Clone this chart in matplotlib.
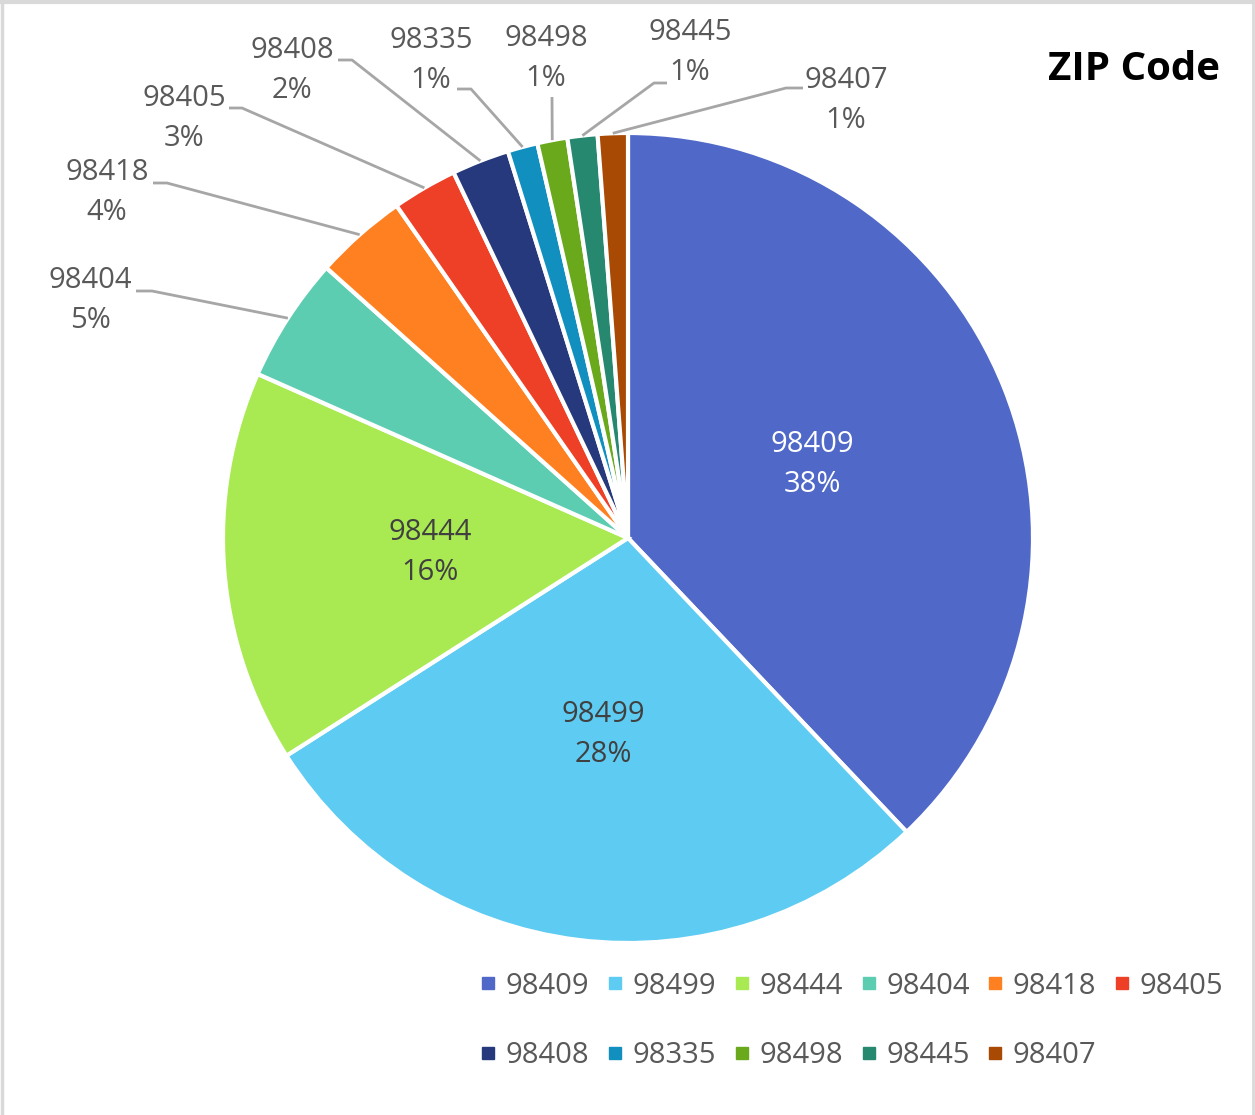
import matplotlib
matplotlib.use('Agg')
import matplotlib.pyplot as plt
from matplotlib.lines import Line2D
import numpy as np

plt.rcParams['font.family'] = ['Open Sans', 'DejaVu Sans']

# ---- data ----
zip_codes = ['98409', '98499', '98444', '98404', '98418', '98405',
             '98408', '98335', '98498', '98445', '98407']
shares = [38.0, 28.1, 15.7, 5.0, 3.7, 2.6, 2.3, 1.2, 1.2, 1.2, 1.2]
colors = ['#5068C8', '#5ECBF2', '#A9E952', '#5CCDB1', '#FF8021', '#EE4026',
          '#26397C', '#1190BF', '#69A91B', '#278870', '#A84A04']
title = 'ZIP Code'

# ---- layout (pixels) ----
W, H = 1255, 1115
CX, CY, R = 628, 538, 405
inner_text_colors = ['white', '#404040', '#404040']
# outer label block centres and leader geometry: (text x, text y, line start x, elbow x, line y)
outer_layout = {
    '98404': (90, 300, 136, 152, 291),
    '98418': (107, 192, 153, 167, 183),
    '98405': (184, 118, 229, 242, 108),
    '98408': (292, 70, 338, 352, 60),
    '98335': (431, 61, 457, 471, 89),
    '98498': (546, 59, 552, 552, 97),
    '98445': (690, 53, 667, 654, 83),
    '98407': (846, 100, 803, 786, 88),
}

fig = plt.figure(figsize=(W / 100, H / 100), dpi=100)
ax = fig.add_axes([0, 0, 1, 1])

total = sum(shares)
wedges, _ = ax.pie(shares, colors=colors, center=(CX, CY), radius=R,
                   startangle=-90, counterclock=True,
                   wedgeprops=dict(edgecolor='white', linewidth=3))
ax.set_xlim(0, W)
ax.set_ylim(H, 0)
ax.set_aspect('equal')
ax.axis('off')

fs = 21
ls = 1.5
for i, (w, z, v) in enumerate(zip(wedges, zip_codes, shares)):
    pct = f'{round(100 * v / total)}%'
    mid = np.deg2rad((w.theta1 + w.theta2) / 2)
    if z in outer_layout:
        tx, ty, lx0, lx1, ly = outer_layout[z]
        axp = CX + R * np.cos(mid)
        ayp = CY + R * np.sin(mid)
        ax.plot([lx0, lx1, axp], [ly, ly, ayp], color='#A6A6A6', lw=2,
                solid_capstyle='butt', zorder=1)
        ax.text(tx, ty, f'{z}\n{pct}', ha='center', va='center', fontsize=fs,
                color='#595959', linespacing=ls)
    else:
        rr = 0.49 * R
        ax.text(CX + rr * np.cos(mid), CY + rr * np.sin(mid), f'{z}\n{pct}',
                ha='center', va='center', fontsize=fs,
                color=inner_text_colors[i], linespacing=ls)

ax.text(1220, 70, title, ha='right', va='center', fontsize=29,
        fontweight='bold', color='black')

# legend (row-major order with 6 columns)
handles = [Line2D([], [], marker='s', linestyle='none', markersize=8,
                  markerfacecolor=c, markeredgecolor=c) for c in colors]
n = len(handles)
order = []
for c in range(6):
    for r in range(2):
        k = r * 6 + c
        if k < n:
            order.append(k)
fig.legend([handles[k] for k in order], [zip_codes[k] for k in order],
           ncol=6, loc='center left', bbox_to_anchor=(481 / W, 1 - 1021 / H),
           frameon=False, fontsize=fs, labelcolor='#595959',
           handlelength=0.5, handletextpad=0.35, columnspacing=0.63,
           labelspacing=1.4, borderpad=0, borderaxespad=0)

# light border
bc = '#D9D9D9'
fig.add_artist(Line2D([0, 1], [1 - 1.5 / H, 1 - 1.5 / H], color=bc, lw=3, transform=fig.transFigure))
fig.add_artist(Line2D([1.5 / W, 1.5 / W], [0, 1], color=bc, lw=2.5, transform=fig.transFigure))
fig.add_artist(Line2D([1 - 2 / W, 1 - 2 / W], [0, 1], color=bc, lw=2, transform=fig.transFigure))

fig.savefig('out.png', dpi=100)
